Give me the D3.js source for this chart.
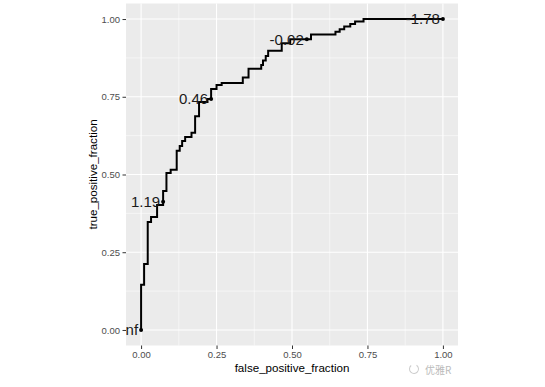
<!DOCTYPE html>
<html>
<head>
<meta charset="utf-8">
<script src="https://cdn.jsdelivr.net/npm/d3@7"></script>
<style>
	body { margin: 0; background: #fff; }
	svg { display: block; font-family: Arial, "Liberation Sans", sans-serif; }
</style>
</head>
<body>
<svg id="roc" width="545" height="387"></svg>
<script>
// ROC staircase vertices (false / true positive fraction)
var fpf = [0, 0, 0.010, 0.010, 0.022, 0.022, 0.033, 0.033, 0.053, 0.053, 0.073, 0.073,
	0.084, 0.084, 0.098, 0.098, 0.118, 0.118, 0.128, 0.128, 0.136, 0.136, 0.146, 0.146,
	0.167, 0.167, 0.179, 0.179, 0.192, 0.192, 0.220, 0.220, 0.232, 0.232, 0.250, 0.250,
	0.267, 0.267, 0.337, 0.337, 0.356, 0.356, 0.398, 0.398, 0.404, 0.404, 0.413, 0.413,
	0.421, 0.421, 0.466, 0.466, 0.494, 0.494, 0.563, 0.563, 0.644, 0.644, 0.658, 0.658,
	0.673, 0.673, 0.693, 0.693, 0.709, 0.709, 0.737, 0.737, 1.0];
var tpf = [0, 0.145, 0.145, 0.212, 0.212, 0.347, 0.347, 0.363, 0.363, 0.402, 0.402, 0.447,
	0.447, 0.505, 0.505, 0.515, 0.515, 0.576, 0.576, 0.592, 0.592, 0.608, 0.608, 0.621,
	0.621, 0.634, 0.634, 0.687, 0.687, 0.733, 0.733, 0.743, 0.743, 0.775, 0.775, 0.788,
	0.788, 0.794, 0.794, 0.812, 0.812, 0.840, 0.840, 0.852, 0.852, 0.867, 0.867, 0.881,
	0.881, 0.898, 0.898, 0.922, 0.922, 0.935, 0.935, 0.950, 0.950, 0.959, 0.959, 0.967,
	0.967, 0.976, 0.976, 0.984, 0.984, 0.992, 0.992, 1.0, 1.0];

// labelled cutoffs
var cutX = [0, 0.073, 0.232, 0.549, 1.0];
var cutY = [0, 0.412, 0.743, 0.935, 1.0];
var cutLabels = ["Inf", "1.19", "0.46", "-0.02", "-1.78"];

var ticks = [0, 0.25, 0.5, 0.75, 1];
var tickLabels = ["0.00", "0.25", "0.50", "0.75", "1.00"];
var minorTicks = [0.125, 0.375, 0.625, 0.875];

var panel = {left: 126, right: 458, top: 3.5, bottom: 345.5};

var svg = d3.select("#roc");
var x = d3.scaleLinear().domain([-0.05, 1.05]).range([panel.left, panel.right]);
var y = d3.scaleLinear().domain([-0.05, 1.05]).range([panel.bottom, panel.top]);

svg.append("defs").append("clipPath").attr("id", "clip")
	.append("rect")
	.attr("x", panel.left).attr("y", panel.top)
	.attr("width", panel.right - panel.left).attr("height", panel.bottom - panel.top);

svg.append("rect")
	.attr("x", panel.left).attr("y", panel.top)
	.attr("width", panel.right - panel.left).attr("height", panel.bottom - panel.top)
	.attr("fill", "#EBEBEB");

var grid = svg.append("g");
grid.selectAll(".mx").data(minorTicks).enter().append("line")
	.attr("x1", function(d){ return x(d); }).attr("x2", function(d){ return x(d); })
	.attr("y1", panel.top).attr("y2", panel.bottom)
	.attr("stroke", "#fff").attr("stroke-width", 0.55);
grid.selectAll(".my").data(minorTicks).enter().append("line")
	.attr("y1", function(d){ return y(d); }).attr("y2", function(d){ return y(d); })
	.attr("x1", panel.left).attr("x2", panel.right)
	.attr("stroke", "#fff").attr("stroke-width", 0.55);
grid.selectAll(".gx").data(ticks).enter().append("line")
	.attr("x1", function(d){ return x(d); }).attr("x2", function(d){ return x(d); })
	.attr("y1", panel.top).attr("y2", panel.bottom)
	.attr("stroke", "#fff").attr("stroke-width", 1.1);
grid.selectAll(".gy").data(ticks).enter().append("line")
	.attr("y1", function(d){ return y(d); }).attr("y2", function(d){ return y(d); })
	.attr("x1", panel.left).attr("x2", panel.right)
	.attr("stroke", "#fff").attr("stroke-width", 1.1);

// axes
var xAxis = d3.axisBottom(x).tickValues(ticks)
	.tickFormat(function(d, i){ return tickLabels[i]; })
	.tickSize(3.5).tickPadding(2.5);
var yAxis = d3.axisLeft(y).tickValues(ticks)
	.tickFormat(function(d, i){ return tickLabels[i]; })
	.tickSize(3.5).tickPadding(2.5);

var gx = svg.append("g").attr("transform", "translate(0," + panel.bottom + ")").call(xAxis);
var gy = svg.append("g").attr("transform", "translate(" + panel.left + ",0)").call(yAxis);
[gx, gy].forEach(function(g){
	g.select(".domain").remove();
	g.selectAll(".tick line").attr("stroke", "#333").attr("stroke-width", 1);
	g.selectAll(".tick text").attr("fill", "#4D4D4D").style("font-size", "9.5px");
});

svg.append("text")
	.attr("x", (panel.left + panel.right) / 2).attr("y", 372)
	.attr("text-anchor", "middle").attr("fill", "#000")
	.style("font-size", "11.6px")
	.text("false_positive_fraction");
svg.append("text")
	.attr("transform", "translate(97," + ((panel.top + panel.bottom) / 2) + ") rotate(-90)")
	.attr("text-anchor", "middle").attr("fill", "#000")
	.style("font-size", "11.6px")
	.text("true_positive_fraction");

// curve
var pts = fpf.map(function(d, i){ return [d, tpf[i]]; });
var line = d3.line().x(function(d){ return x(d[0]); }).y(function(d){ return y(d[1]); });
var plot = svg.append("g").attr("clip-path", "url(#clip)");
plot.append("path").datum(pts)
	.attr("d", line)
	.attr("fill", "none").attr("stroke", "#000")
	.attr("stroke-width", 2).attr("stroke-linejoin", "miter");

var cuts = cutX.map(function(d, i){ return {x: d, y: cutY[i], label: cutLabels[i]}; });
plot.selectAll(".pt").data(cuts).enter().append("circle")
	.attr("cx", function(d){ return x(d.x); })
	.attr("cy", function(d){ return y(d.y); })
	.attr("r", 2).attr("fill", "#000");
plot.selectAll(".lab").data(cuts).enter().append("text")
	.attr("x", function(d){ return x(d.x) - 3; })
	.attr("y", function(d){ return y(d.y); })
	.attr("dy", "0.36em")
	.attr("text-anchor", "end").attr("fill", "#1a1a1a")
	.style("font-size", "15px")
	.text(function(d){ return d.label; });

// watermark
svg.append("path")
	.attr("d", d3.arc()({innerRadius: 4, outerRadius: 5, startAngle: 0.6, endAngle: 5.6}))
	.attr("transform", "translate(414,369)")
	.attr("fill", "#ccc");
svg.append("text")
	.attr("x", 425).attr("y", 374)
	.attr("fill", "#bbb")
	.style("font-size", "10px")
	.style("font-family", "'Noto Sans CJK SC', sans-serif")
	.text("优雅R");
</script>
</body>
</html>
